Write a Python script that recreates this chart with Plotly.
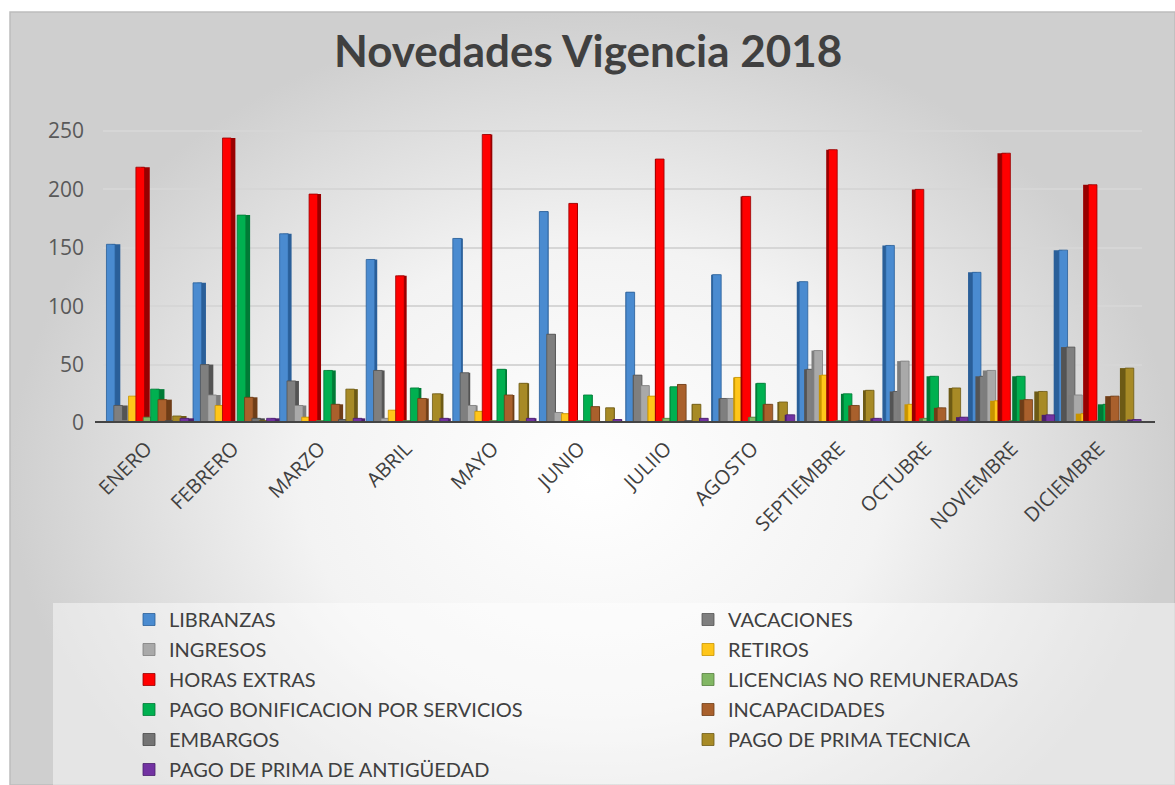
import plotly.graph_objects as go

# Months (categories) as labelled on the axis
meses = ["ENERO", "FEBRERO", "MARZO", "ABRIL", "MAYO", "JUNIO", "JULIIO",
         "AGOSTO", "SEPTIEMBRE", "OCTUBRE", "NOVIEMBRE", "DICIEMBRE"]

# Monthly counts per type of payroll novelty
libranzas = [153, 120, 162, 140, 158, 181, 112, 127, 121, 152, 129, 148]
vacaciones = [15, 50, 36, 45, 43, 76, 41, 21, 46, 27, 40, 65]
ingresos = [2, 24, 15, 4, 15, 9, 32, 21, 62, 53, 45, 24]
retiros = [23, 15, 5, 11, 10, 8, 23, 39, 41, 16, 19, 8]
horas_extras = [219, 244, 196, 126, 247, 188, 226, 194, 234, 200, 231, 204]
licencias_no_remuneradas = [5, 1, 2, 2, 2, 2, 4, 5, 2, 4, 2, 2]
pago_bonificacion = [29, 178, 45, 30, 46, 24, 31, 34, 25, 40, 40, 16]
incapacidades = [20, 22, 16, 21, 24, 14, 33, 16, 15, 13, 20, 23]
embargos = [2, 4, 3, 2, 2, 1, 2, 2, 2, 2, 2, 2]
prima_tecnica = [6, 2, 29, 25, 34, 13, 16, 18, 28, 30, 27, 47]
prima_antiguedad = [4, 4, 4, 4, 4, 3, 4, 7, 4, 5, 7, 3]

series = [
    ("LIBRANZAS", libranzas, "#4a8bd0", "#2a5f99"),
    ("VACACIONES", vacaciones, "#7f7f7f", "#545454"),
    ("INGRESOS", ingresos, "#a9a9a9", "#7d7d7d"),
    ("RETIROS", retiros, "#ffc61a", "#c89400"),
    ("HORAS EXTRAS", horas_extras, "#ff0000", "#980000"),
    ("LICENCIAS NO REMUNERADAS", licencias_no_remuneradas, "#82b764", "#557f3d"),
    ("PAGO BONIFICACION POR SERVICIOS", pago_bonificacion, "#00b050", "#007a36"),
    ("INCAPACIDADES", incapacidades, "#a9602c", "#6f3d17"),
    ("EMBARGOS", embargos, "#747474", "#474747"),
    ("PAGO DE PRIMA TECNICA", prima_tecnica, "#a78a26", "#6d5a15"),
    ("PAGO DE PRIMA DE ANTIGÜEDAD", prima_antiguedad, "#7232a2", "#4a1f6d"),
]

W, H = 1175, 785
px_x = lambda p: p / W
px_y = lambda p: 1 - p / H

# plot area in pixels
X0, X1 = 103, 1142
Y_ZERO, Y_MAX, PX_PER_UNIT = 423, 255, 1.168
y_top_px = Y_ZERO - Y_MAX * PX_PER_UNIT

fig = go.Figure()

# radial gradient backdrop of the chart area (centre sits a little below the middle)
fig.add_trace(go.Scatter(
    x=[px_x(10), 1, 1, px_x(10), px_x(10)],
    y=[-0.2, -0.2, px_y(12), px_y(12), -0.2],
    xaxis="x", yaxis="y", mode="lines", line=dict(width=0),
    fill="toself",
    fillgradient=dict(type="radial",
                      colorscale=[[0, "#ffffff"], [0.5, "#f3f3f3"], [1, "#cfcfcf"]]),
    hoverinfo="skip", showlegend=False,
))

# clustered bars with a darker side face to give a sense of depth;
# legend split in two columns (row-major order: even -> left, odd -> right)
step, face_w = 0.085, 0.10
ncat = len(meses)
for i, (name, vals, color, side) in enumerate(series):
    base_off = -0.46 + i * step
    shift = [0.06 * (5.5 - c) / 5.5 for c in range(ncat)]
    fig.add_trace(go.Bar(
        x=meses, y=vals, xaxis="x2", yaxis="y2",
        offset=[base_off + s for s in shift], width=face_w,
        marker=dict(color=side, line=dict(width=0)),
        showlegend=False, hoverinfo="skip",
    ))
    fig.add_trace(go.Bar(
        x=meses, y=vals, xaxis="x2", yaxis="y2", name=name,
        legend="legend" if i % 2 == 0 else "legend2", legendgroup=name,
        offset=base_off, width=face_w,
        marker=dict(color=color, line=dict(color=side, width=0.8)),
    ))

legend_common = dict(
    orientation="v", xanchor="left", yanchor="top",
    bgcolor="rgba(0,0,0,0)", traceorder="grouped", tracegroupgap=1,
    font=dict(family="Lato", size=20, color="#404040"),
)

fig.update_layout(
    width=W, height=H,
    margin=dict(l=0, r=0, t=0, b=0, autoexpand=False),
    paper_bgcolor="#ffffff",
    plot_bgcolor="rgba(0,0,0,0)",
    barmode="overlay",
    font=dict(family="Open Sans", color="#404040"),
    xaxis=dict(domain=[0, 1], range=[0, 1], visible=False, fixedrange=True),
    yaxis=dict(domain=[0, 1], range=[0, 1], visible=False, fixedrange=True),
    xaxis2=dict(domain=[px_x(X0), px_x(X1)], anchor="y2", type="category",
                showgrid=False, showline=False, ticks="", tickangle=-45,
                ticklabelstandoff=9,
                tickfont=dict(family="Open Sans", size=20, color="#404040")),
    yaxis2=dict(domain=[px_y(Y_ZERO), px_y(y_top_px)], anchor="x2",
                range=[0, Y_MAX], tickvals=[0, 50, 100, 150, 200, 250],
                showgrid=True, gridcolor="#d6d6d6", gridwidth=2,
                zeroline=False, showline=False, ticks="",
                ticklabelstandoff=18,
                tickfont=dict(family="Open Sans", size=21, color="#595959")),
    legend=dict(x=px_x(129), y=px_y(600), **legend_common),
    legend2=dict(x=px_x(688), y=px_y(600), **legend_common),
    annotations=[dict(
        text="Novedades Vigencia 2018", x=px_x(588), y=px_y(50),
        xref="paper", yref="paper", showarrow=False,
        xanchor="center", yanchor="middle",
        font=dict(family="Lato", size=44, color="#404040", weight=700),
    )],
    shapes=[
        # chart frame
        dict(type="rect", xref="paper", yref="paper",
             x0=px_x(10), x1=1, y0=0, y1=px_y(12),
             line=dict(color="#bdbdbd", width=1.5), fillcolor="rgba(0,0,0,0)",
             layer="above"),
        # legend panel
        dict(type="rect", xref="paper", yref="paper",
             x0=px_x(53), x1=1, y0=0, y1=px_y(603),
             line=dict(width=0), fillcolor="rgba(255,255,255,0.45)",
             layer="above"),
        # chart floor
        dict(type="line", xref="paper", yref="y2",
             x0=px_x(95), x1=px_x(1155), y0=0, y1=0,
             line=dict(color="#444444", width=4), layer="above"),
    ],
)

fig.write_html("out.html")
